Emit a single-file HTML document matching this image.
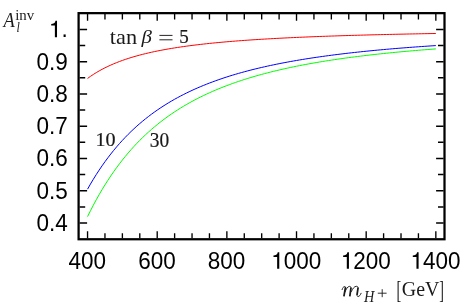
<!DOCTYPE html>
<html><head><meta charset="utf-8"><title>plot</title>
<style>html,body{margin:0;padding:0;background:#fff;overflow:hidden}svg{display:block;will-change:transform}.t{filter:opacity(1)}</style>
</head><body>
<svg width="466" height="303" viewBox="0 0 466 303">
<rect x="0" y="0" width="466" height="303" fill="#fff"/>
<path d="M87.55 216.62 L90.45 210.77 L93.35 205.16 L96.26 199.78 L99.16 194.61 L102.06 189.65 L104.96 184.90 L107.87 180.33 L110.77 175.94 L113.67 171.73 L116.57 167.68 L119.48 163.78 L122.38 160.04 L125.28 156.44 L128.18 152.97 L131.09 149.64 L133.99 146.43 L136.89 143.34 L139.79 140.36 L142.70 137.49 L145.60 134.72 L148.50 132.05 L151.40 129.48 L154.31 127.00 L157.21 124.60 L160.11 122.29 L163.01 120.05 L165.92 117.89 L168.82 115.81 L171.72 113.79 L174.62 111.84 L177.52 109.96 L180.43 108.13 L183.33 106.37 L186.23 104.66 L189.13 103.01 L192.04 101.40 L194.94 99.85 L197.84 98.35 L200.74 96.89 L203.65 95.48 L206.55 94.11 L209.45 92.78 L212.35 91.49 L215.26 90.24 L218.16 89.02 L221.06 87.84 L223.96 86.69 L226.87 85.58 L229.77 84.50 L232.67 83.45 L235.57 82.43 L238.48 81.43 L241.38 80.47 L244.28 79.53 L247.18 78.61 L250.09 77.72 L252.99 76.86 L255.89 76.01 L258.79 75.19 L261.69 74.39 L264.60 73.61 L267.50 72.85 L270.40 72.11 L273.30 71.39 L276.21 70.69 L279.11 70.01 L282.01 69.34 L284.91 68.69 L287.82 68.05 L290.72 67.43 L293.62 66.82 L296.52 66.23 L299.43 65.66 L302.33 65.09 L305.23 64.54 L308.13 64.01 L311.04 63.48 L313.94 62.97 L316.84 62.47 L319.74 61.98 L322.65 61.50 L325.55 61.03 L328.45 60.57 L331.35 60.13 L334.26 59.69 L337.16 59.26 L340.06 58.84 L342.96 58.43 L345.87 58.03 L348.77 57.64 L351.67 57.25 L354.57 56.88 L357.47 56.51 L360.38 56.15 L363.28 55.80 L366.18 55.45 L369.08 55.11 L371.99 54.78 L374.89 54.45 L377.79 54.14 L380.69 53.82 L383.60 53.52 L386.50 53.22 L389.40 52.92 L392.30 52.63 L395.21 52.35 L398.11 52.07 L401.01 51.80 L403.91 51.53 L406.82 51.27 L409.72 51.02 L412.62 50.76 L415.52 50.52 L418.43 50.27 L421.33 50.03 L424.23 49.80 L427.13 49.57 L430.04 49.35 L432.94 49.12 L435.84 48.91" fill="none" stroke="#00ff00" stroke-width="1.00"/>
<path d="M87.55 189.17 L90.45 184.09 L93.35 179.23 L96.26 174.57 L99.16 170.11 L102.06 165.84 L104.96 161.74 L107.87 157.80 L110.77 154.03 L113.67 150.41 L116.57 146.93 L119.48 143.59 L122.38 140.38 L125.28 137.30 L128.18 134.33 L131.09 131.48 L133.99 128.74 L136.89 126.10 L139.79 123.55 L142.70 121.10 L145.60 118.74 L148.50 116.47 L151.40 114.28 L154.31 112.16 L157.21 110.12 L160.11 108.15 L163.01 106.25 L165.92 104.41 L168.82 102.64 L171.72 100.92 L174.62 99.26 L177.52 97.66 L180.43 96.11 L183.33 94.61 L186.23 93.16 L189.13 91.75 L192.04 90.39 L194.94 89.07 L197.84 87.80 L200.74 86.56 L203.65 85.36 L206.55 84.19 L209.45 83.06 L212.35 81.97 L215.26 80.90 L218.16 79.87 L221.06 78.87 L223.96 77.89 L226.87 76.95 L229.77 76.03 L232.67 75.13 L235.57 74.27 L238.48 73.42 L241.38 72.60 L244.28 71.80 L247.18 71.02 L250.09 70.26 L252.99 69.53 L255.89 68.81 L258.79 68.11 L261.69 67.43 L264.60 66.77 L267.50 66.12 L270.40 65.49 L273.30 64.88 L276.21 64.28 L279.11 63.69 L282.01 63.12 L284.91 62.57 L287.82 62.02 L290.72 61.49 L293.62 60.98 L296.52 60.47 L299.43 59.98 L302.33 59.50 L305.23 59.03 L308.13 58.57 L311.04 58.12 L313.94 57.68 L316.84 57.25 L319.74 56.84 L322.65 56.43 L325.55 56.02 L328.45 55.63 L331.35 55.25 L334.26 54.87 L337.16 54.51 L340.06 54.15 L342.96 53.80 L345.87 53.45 L348.77 53.12 L351.67 52.79 L354.57 52.46 L357.47 52.15 L360.38 51.84 L363.28 51.53 L366.18 51.24 L369.08 50.94 L371.99 50.66 L374.89 50.38 L377.79 50.10 L380.69 49.83 L383.60 49.57 L386.50 49.31 L389.40 49.06 L392.30 48.81 L395.21 48.56 L398.11 48.32 L401.01 48.09 L403.91 47.86 L406.82 47.63 L409.72 47.41 L412.62 47.19 L415.52 46.98 L418.43 46.77 L421.33 46.56 L424.23 46.36 L427.13 46.16 L430.04 45.96 L432.94 45.77 L435.84 45.58" fill="none" stroke="#0000ff" stroke-width="1.00"/>
<path d="M87.55 78.46 L90.45 76.38 L93.35 74.44 L96.26 72.62 L99.16 70.92 L102.06 69.32 L104.96 67.82 L107.87 66.41 L110.77 65.08 L113.67 63.82 L116.57 62.63 L119.48 61.51 L122.38 60.44 L125.28 59.43 L128.18 58.47 L131.09 57.56 L133.99 56.69 L136.89 55.86 L139.79 55.08 L142.70 54.32 L145.60 53.61 L148.50 52.92 L151.40 52.27 L154.31 51.64 L157.21 51.04 L160.11 50.46 L163.01 49.91 L165.92 49.38 L168.82 48.87 L171.72 48.38 L174.62 47.91 L177.52 47.46 L180.43 47.02 L183.33 46.60 L186.23 46.20 L189.13 45.81 L192.04 45.43 L194.94 45.07 L197.84 44.72 L200.74 44.38 L203.65 44.05 L206.55 43.73 L209.45 43.43 L212.35 43.13 L215.26 42.84 L218.16 42.57 L221.06 42.30 L223.96 42.04 L226.87 41.78 L229.77 41.54 L232.67 41.30 L235.57 41.07 L238.48 40.84 L241.38 40.63 L244.28 40.42 L247.18 40.21 L250.09 40.01 L252.99 39.81 L255.89 39.63 L258.79 39.44 L261.69 39.26 L264.60 39.09 L267.50 38.92 L270.40 38.75 L273.30 38.59 L276.21 38.43 L279.11 38.28 L282.01 38.13 L284.91 37.98 L287.82 37.84 L290.72 37.70 L293.62 37.57 L296.52 37.44 L299.43 37.31 L302.33 37.18 L305.23 37.06 L308.13 36.94 L311.04 36.82 L313.94 36.70 L316.84 36.59 L319.74 36.48 L322.65 36.37 L325.55 36.27 L328.45 36.17 L331.35 36.06 L334.26 35.97 L337.16 35.87 L340.06 35.78 L342.96 35.68 L345.87 35.59 L348.77 35.50 L351.67 35.42 L354.57 35.33 L357.47 35.25 L360.38 35.16 L363.28 35.08 L366.18 35.01 L369.08 34.93 L371.99 34.85 L374.89 34.78 L377.79 34.71 L380.69 34.63 L383.60 34.56 L386.50 34.49 L389.40 34.43 L392.30 34.36 L395.21 34.29 L398.11 34.23 L401.01 34.17 L403.91 34.11 L406.82 34.04 L409.72 33.98 L412.62 33.93 L415.52 33.87 L418.43 33.81 L421.33 33.76 L424.23 33.70 L427.13 33.65 L430.04 33.59 L432.94 33.54 L435.84 33.49" fill="none" stroke="#ff0000" stroke-width="1.00"/>
<path d="M87.55 238.20 V231.30 M87.55 14.00 V20.70 M104.96 238.20 V233.30 M104.96 14.00 V19.40 M122.38 238.20 V233.30 M122.38 14.00 V19.40 M139.79 238.20 V233.30 M139.79 14.00 V19.40 M157.21 238.20 V231.30 M157.21 14.00 V20.70 M174.62 238.20 V233.30 M174.62 14.00 V19.40 M192.04 238.20 V233.30 M192.04 14.00 V19.40 M209.45 238.20 V233.30 M209.45 14.00 V19.40 M226.87 238.20 V231.30 M226.87 14.00 V20.70 M244.28 238.20 V233.30 M244.28 14.00 V19.40 M261.69 238.20 V233.30 M261.69 14.00 V19.40 M279.11 238.20 V233.30 M279.11 14.00 V19.40 M296.52 238.20 V231.30 M296.52 14.00 V20.70 M313.94 238.20 V233.30 M313.94 14.00 V19.40 M331.35 238.20 V233.30 M331.35 14.00 V19.40 M348.77 238.20 V233.30 M348.77 14.00 V19.40 M366.18 238.20 V231.30 M366.18 14.00 V20.70 M383.60 238.20 V233.30 M383.60 14.00 V19.40 M401.01 238.20 V233.30 M401.01 14.00 V19.40 M418.43 238.20 V233.30 M418.43 14.00 V19.40 M435.84 238.20 V231.30 M435.84 14.00 V20.70" fill="none" stroke="#000" stroke-width="1.35"/>
<path d="M79.60 223.02 h7.50 M443.60 223.02 h-7.50 M79.60 206.89 h5.60 M443.60 206.89 h-5.60 M79.60 190.76 h7.50 M443.60 190.76 h-7.50 M79.60 174.62 h5.60 M443.60 174.62 h-5.60 M79.60 158.49 h7.50 M443.60 158.49 h-7.50 M79.60 142.36 h5.60 M443.60 142.36 h-5.60 M79.60 126.23 h7.50 M443.60 126.23 h-7.50 M79.60 110.09 h5.60 M443.60 110.09 h-5.60 M79.60 93.96 h7.50 M443.60 93.96 h-7.50 M79.60 77.83 h5.60 M443.60 77.83 h-5.60 M79.60 61.70 h7.50 M443.60 61.70 h-7.50 M79.60 45.56 h5.60 M443.60 45.56 h-5.60 M79.60 29.43 h7.50 M443.60 29.43 h-7.50" fill="none" stroke="#000" stroke-width="1.5"/>
<rect x="78.60" y="13.15" width="365.90" height="226.10" fill="none" stroke="#000" stroke-width="2.25"/>
<g class="t" font-family="Liberation Sans, sans-serif" font-size="22.50" fill="#000">
<g transform="translate(68.48 268.80) scale(1 1.0400)"><text x="0.000" y="0">400</text></g>
<g transform="translate(138.14 268.80) scale(1 1.0400)"><text x="0.000" y="0">600</text></g>
<g transform="translate(207.80 268.80) scale(1 1.0400)"><text x="0.000" y="0">800</text></g>
<g transform="translate(271.20 268.80) scale(1 1.0400)"><path transform="translate(0.000 0) scale(0.02250 -0.02250)" d="M359 0 L264 0 L264 502 L101 502 L101 570 C196 575 268 594 292 709 L359 709 Z"/><text x="12.510" y="0">000</text></g>
<g transform="translate(340.86 268.80) scale(1 1.0400)"><path transform="translate(0.000 0) scale(0.02250 -0.02250)" d="M359 0 L264 0 L264 502 L101 502 L101 570 C196 575 268 594 292 709 L359 709 Z"/><text x="12.510" y="0">200</text></g>
<g transform="translate(410.52 268.80) scale(1 1.0400)"><path transform="translate(0.000 0) scale(0.02250 -0.02250)" d="M359 0 L264 0 L264 502 L101 502 L101 570 C196 575 268 594 292 709 L359 709 Z"/><text x="12.510" y="0">400</text></g>
<g transform="translate(36.42 230.92) scale(1 1.0400)"><text x="0.000" y="0">0.4</text></g>
<g transform="translate(36.42 198.66) scale(1 1.0400)"><text x="0.000" y="0">0.5</text></g>
<g transform="translate(36.42 166.39) scale(1 1.0400)"><text x="0.000" y="0">0.6</text></g>
<g transform="translate(36.42 134.13) scale(1 1.0400)"><text x="0.000" y="0">0.7</text></g>
<g transform="translate(36.42 101.86) scale(1 1.0400)"><text x="0.000" y="0">0.8</text></g>
<g transform="translate(36.42 69.60) scale(1 1.0400)"><text x="0.000" y="0">0.9</text></g>
<g transform="translate(48.94 37.33) scale(1 1.0400)"><path transform="translate(0.000 0) scale(0.02250 -0.02250)" d="M359 0 L264 0 L264 502 L101 502 L101 570 C196 575 268 594 292 709 L359 709 Z"/><text x="12.510" y="0">.</text></g>
</g>
<g class="t" font-family="Liberation Serif, serif" font-size="20" fill="#1a1a1a" stroke="#1a1a1a" stroke-width="0.2" stroke-linejoin="round">
<text transform="matrix(0.9201 0 0 1.0912 3.382 27.000)" font-style="italic" stroke="none">A</text>
<text transform="matrix(0.7442 0 0 0.7287 15.242 19.559)" stroke="none">inv</text>
<text transform="matrix(0.6000 0 0 0.7739 16.400 31.750)" font-style="italic" stroke="none">l</text>
<text transform="matrix(1.1141 0 0 1.0702 109.850 43.726)" stroke="none">tan</text>
<text transform="matrix(1.0461 0 0 0.9929 141.604 42.690)" font-style="italic" stroke="none">β</text>
<text transform="matrix(0.9506 0 0 0.9714 179.194 43.366)">5</text>
<text transform="matrix(1.0067 0 0 0.9800 95.478 146.364)">10</text>
<text transform="matrix(0.9697 0 0 1.0000 149.862 146.860)">30</text>
<text transform="matrix(0.7135 0 0 0.7905 363.903 301.705)" font-style="italic" stroke="none">H</text>
<text transform="matrix(0.7136 0 0 1.2503 396.510 298.234)" stroke="none">[</text>
<text transform="matrix(0.9954 0 0 1.0800 401.764 296.256)" stroke="none">GeV</text>
<text transform="matrix(0.6978 0 0 1.2503 439.292 298.234)" stroke="none">]</text>
</g>
<path d="M377.8 293.2 H386.6 M382.2 289.2 V297.2" stroke="#1a1a1a" stroke-width="0.9" fill="none"/>
<path d="M159.4 35.4 H172.5 M159.4 39.8 H172.5" stroke="#1a1a1a" stroke-width="0.95" fill="none"/>
<g fill="none" stroke="#1a1a1a" stroke-linecap="round" stroke-linejoin="round">
<path stroke-width="0.95" d="M342.1 289.6 C342.6 287.8 343.6 286.5 344.6 286.5 C345.4 286.5 345.6 287.0 345.5 287.6 M345.0 292.0 C346.0 289.0 347.8 286.4 349.4 286.4 C350.6 286.4 351.1 287.0 351.0 288.0 M351.4 291.5 C352.6 288.6 354.4 286.3 356.3 286.3 C357.6 286.3 358.2 287.0 358.1 288.0 M357.0 294.5 C356.8 296.0 357.4 296.5 358.1 296.5 C359.3 296.5 360.5 295.0 361.1 293.3"/>
<path stroke-width="1.75" stroke-linecap="butt" d="M345.5 287.2 L343.9 296.3 M351.0 287.6 L349.8 296.3 M358.1 287.6 L357.0 294.8"/>
</g>
</svg>
</body></html>
